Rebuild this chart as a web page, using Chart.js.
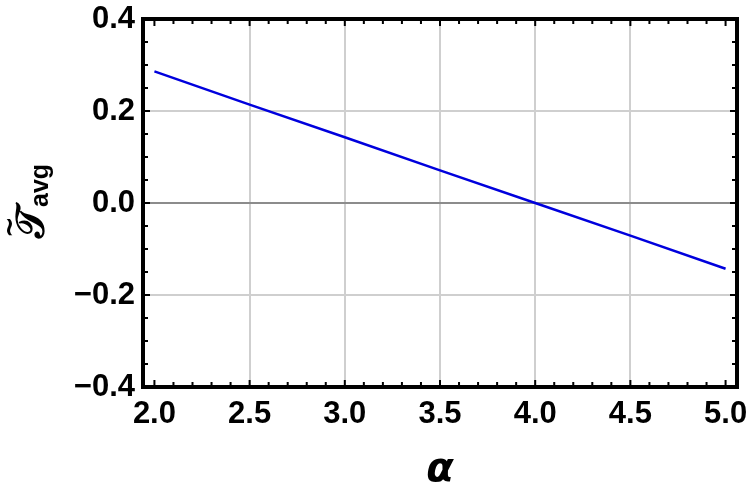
<!DOCTYPE html>
<html>
<head>
<meta charset="utf-8">
<script src="https://cdn.jsdelivr.net/npm/chart.js@4.4.1/dist/chart.umd.min.js"></script>
<style>
  html, body { margin: 0; padding: 0; background: #fff; }
  #wrap { width: 750px; height: 492px; }
</style>
</head>
<body>
<div id="wrap"><canvas id="avgChart" width="750" height="492"></canvas></div>
<script>
// values
const alphaValues = [2.0, 2.5, 3.0, 3.5, 4.0, 4.5, 5.0];
const tAvgValues = [0.286, 0.214, 0.143, 0.071, 0.0, -0.071, -0.143];
const xTickValues = [2.0, 2.5, 3.0, 3.5, 4.0, 4.5, 5.0];
const yTickValues = [-0.4, -0.2, 0.0, 0.2, 0.4];

const tickFont = { family: 'Liberation Sans, Arial, sans-serif', size: 31, weight: 'bold' };

function fmt(v) {
    const s = Math.abs(v).toFixed(1);
    return v < -1e-9 ? '\u2212' + s : s;
}

function noPad(s) {
    s.paddingTop = 0; s.paddingBottom = 0; s.paddingLeft = 0; s.paddingRight = 0;
}

// frame + inward minor/major ticks + axis titles
const framePlugin = {
    id: 'frame',
    afterDraw(chart) {
        const ctx = chart.ctx;
        const a = chart.chartArea;
        const xs = chart.scales.x, ys = chart.scales.y;
        ctx.save();
        ctx.strokeStyle = '#000';
        ctx.lineWidth = 2;
        // x ticks, every 0.1
        for (let i = 0; i <= 30; i++) {
            const v = 2 + i * 0.1;
            const px = xs.getPixelForValue(v);
            const len = (i % 5 === 0) ? 7 : 5;
            ctx.beginPath();
            ctx.moveTo(px, a.bottom); ctx.lineTo(px, a.bottom - len);
            ctx.moveTo(px, a.top); ctx.lineTo(px, a.top + len);
            ctx.stroke();
        }
        // y ticks, every 0.05
        for (let i = 0; i <= 16; i++) {
            const v = -0.4 + i * 0.05;
            const py = ys.getPixelForValue(v);
            const len = (i % 4 === 0) ? 7 : 5;
            ctx.beginPath();
            ctx.moveTo(a.left, py); ctx.lineTo(a.left + len, py);
            ctx.moveTo(a.right, py); ctx.lineTo(a.right - len, py);
            ctx.stroke();
        }
        ctx.lineWidth = 4;
        ctx.strokeRect(a.left, a.top, a.right - a.left, a.bottom - a.top);

        // x title
        ctx.fillStyle = '#000';
        ctx.textAlign = 'center';
        ctx.textBaseline = 'alphabetic';
        ctx.font = 'italic bold 40px "DejaVu Sans", sans-serif';
        ctx.fillText('\u03B1', (a.left + a.right) / 2, 481);

        // y title, rotated
        ctx.translate(42, 207);
        ctx.rotate(-Math.PI / 2);
        ctx.textAlign = 'right';
        ctx.font = 'bold 40px "DejaVu Serif", serif';
        ctx.fillText('\uD835\uDCAF', 0, 2);
        ctx.textAlign = 'center';
        ctx.font = 'bold 26px "DejaVu Sans", sans-serif';
        ctx.fillText('~', -20, -24);
        ctx.textAlign = 'left';
        ctx.font = 'bold 25px "Liberation Sans", Arial, sans-serif';
        ctx.fillText('avg', 0, 6);
        ctx.restore();
    }
};

new Chart(document.getElementById('avgChart').getContext('2d'), {
    type: 'line',
    data: {
        datasets: [{
            data: alphaValues.map((x, i) => ({ x: x, y: tAvgValues[i] })),
            borderColor: '#0000dd',
            borderWidth: 2.5,
            pointRadius: 0,
            fill: false,
            tension: 0
        }]
    },
    options: {
        responsive: false,
        animation: false,
        layout: { padding: { top: 19, right: 13, left: 0, bottom: 0 } },
        plugins: { legend: { display: false }, tooltip: { enabled: false } },
        scales: {
            x: {
                type: 'linear',
                min: 1.94,
                max: 5.06,
                afterBuildTicks: s => { s.ticks = xTickValues.map(v => ({ value: v })); },
                afterFit: s => { s.height = 105; noPad(s); },
                border: { display: false },
                grid: {
                    drawTicks: false,
                    lineWidth: 2,
                    color: c => (c.tick && (c.tick.value === 2 || c.tick.value === 5)) ? 'rgba(0,0,0,0)' : '#cfcfcf'
                },
                ticks: {
                    padding: 9,
                    color: '#000',
                    font: tickFont,
                    maxRotation: 0,
                    callback: v => fmt(v)
                }
            },
            y: {
                type: 'linear',
                min: -0.4,
                max: 0.4,
                afterBuildTicks: s => { s.ticks = yTickValues.map(v => ({ value: v })); },
                afterFit: s => { s.width = 143; noPad(s); },
                border: { display: false },
                grid: {
                    drawTicks: false,
                    lineWidth: 2,
                    color: c => {
                        const v = c.tick ? c.tick.value : null;
                        if (v === null || Math.abs(Math.abs(v) - 0.4) < 1e-9) return 'rgba(0,0,0,0)';
                        return Math.abs(v) < 1e-9 ? '#8c8c8c' : '#cfcfcf';
                    }
                },
                ticks: {
                    padding: 8,
                    color: '#000',
                    font: tickFont,
                    callback: v => fmt(v)
                }
            }
        }
    },
    plugins: [framePlugin]
});
</script>
</body>
</html>
